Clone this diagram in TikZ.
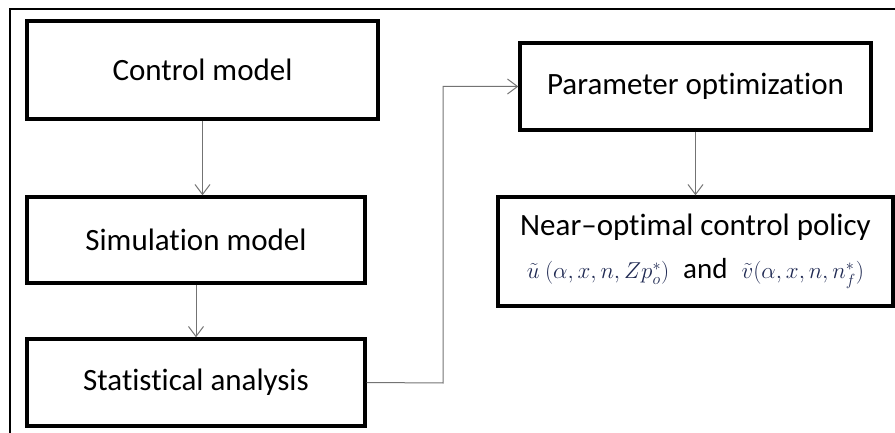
\RequirePackage{fix-cm}
\documentclass[tikz,border=0pt]{standalone}
\usepackage{amsmath}
\usepackage{fontspec}
\setmainfont[RawFeature=-liga]{Carlito}
\usetikzlibrary{arrows.meta,positioning}
\definecolor{mathblue}{rgb}{0.12,0.16,0.32}
\definecolor{linkgray}{gray}{0.45}
\tikzset{
  box/.style={draw=black, line width=3.4pt, rectangle, inner sep=0pt, align=center,
    font=\fontsize{31}{36}\selectfont},
  mathpart/.style={},
  link/.style={draw=linkgray, line width=1pt, -{Straight Barb[length=10pt,width=15pt,line width=1pt]}},
  frameline/.style={draw=black, line width=1.8pt}
}
\newcommand{\mathbit}[1]{{\fontsize{23}{27}\selectfont\color{mathblue}$#1$}}
\begin{document}
\begin{tikzpicture}[x=1pt,y=-1pt]
\useasboundingbox (0,0) rectangle (895,433);
% frame
\coordinate (ftl) at (10,9);
\coordinate (ftr) at (895,9);
\coordinate (fbl) at (10,433);
\draw[frameline] (fbl) -- (ftl) -- (ftr);
% boxes
\node[box, minimum width=351pt, minimum height=98pt] (ctrl) at (202.5,70) {Control model};
\node[box, minimum width=338pt, minimum height=86pt] (sim) at (196,240) {Simulation model};
\node[box, minimum width=338pt, minimum height=87pt] (stat) at (196,382.5) {Statistical analysis};
\node[box, minimum width=351pt, minimum height=87pt] (param) at (695.5,86.5) {Parameter optimization};
\node[box, minimum width=395pt, minimum height=109pt] (near) at (695.5,251.5)
  {Near\textendash optimal control policy\\[7pt]
   \mathbit{\tilde{u}\ (\alpha,x,n,Zp_o^*)}\ \ {\fontsize{29}{34}\selectfont and}\ \
   \mathbit{\tilde{v}(\alpha,x,n,n_f^*)}};
% connectors
\draw[link] (ctrl.south) -- (ctrl.south |- sim.north);
\draw[link] (sim.south) -- (sim.south |- stat.north);
\draw[link] (param.south) -- (param.south |- near.north);
\coordinate (bend) at (443,383);
\draw[link] (stat.east) -- (bend) |- (param.west);
\end{tikzpicture}
\end{document}
